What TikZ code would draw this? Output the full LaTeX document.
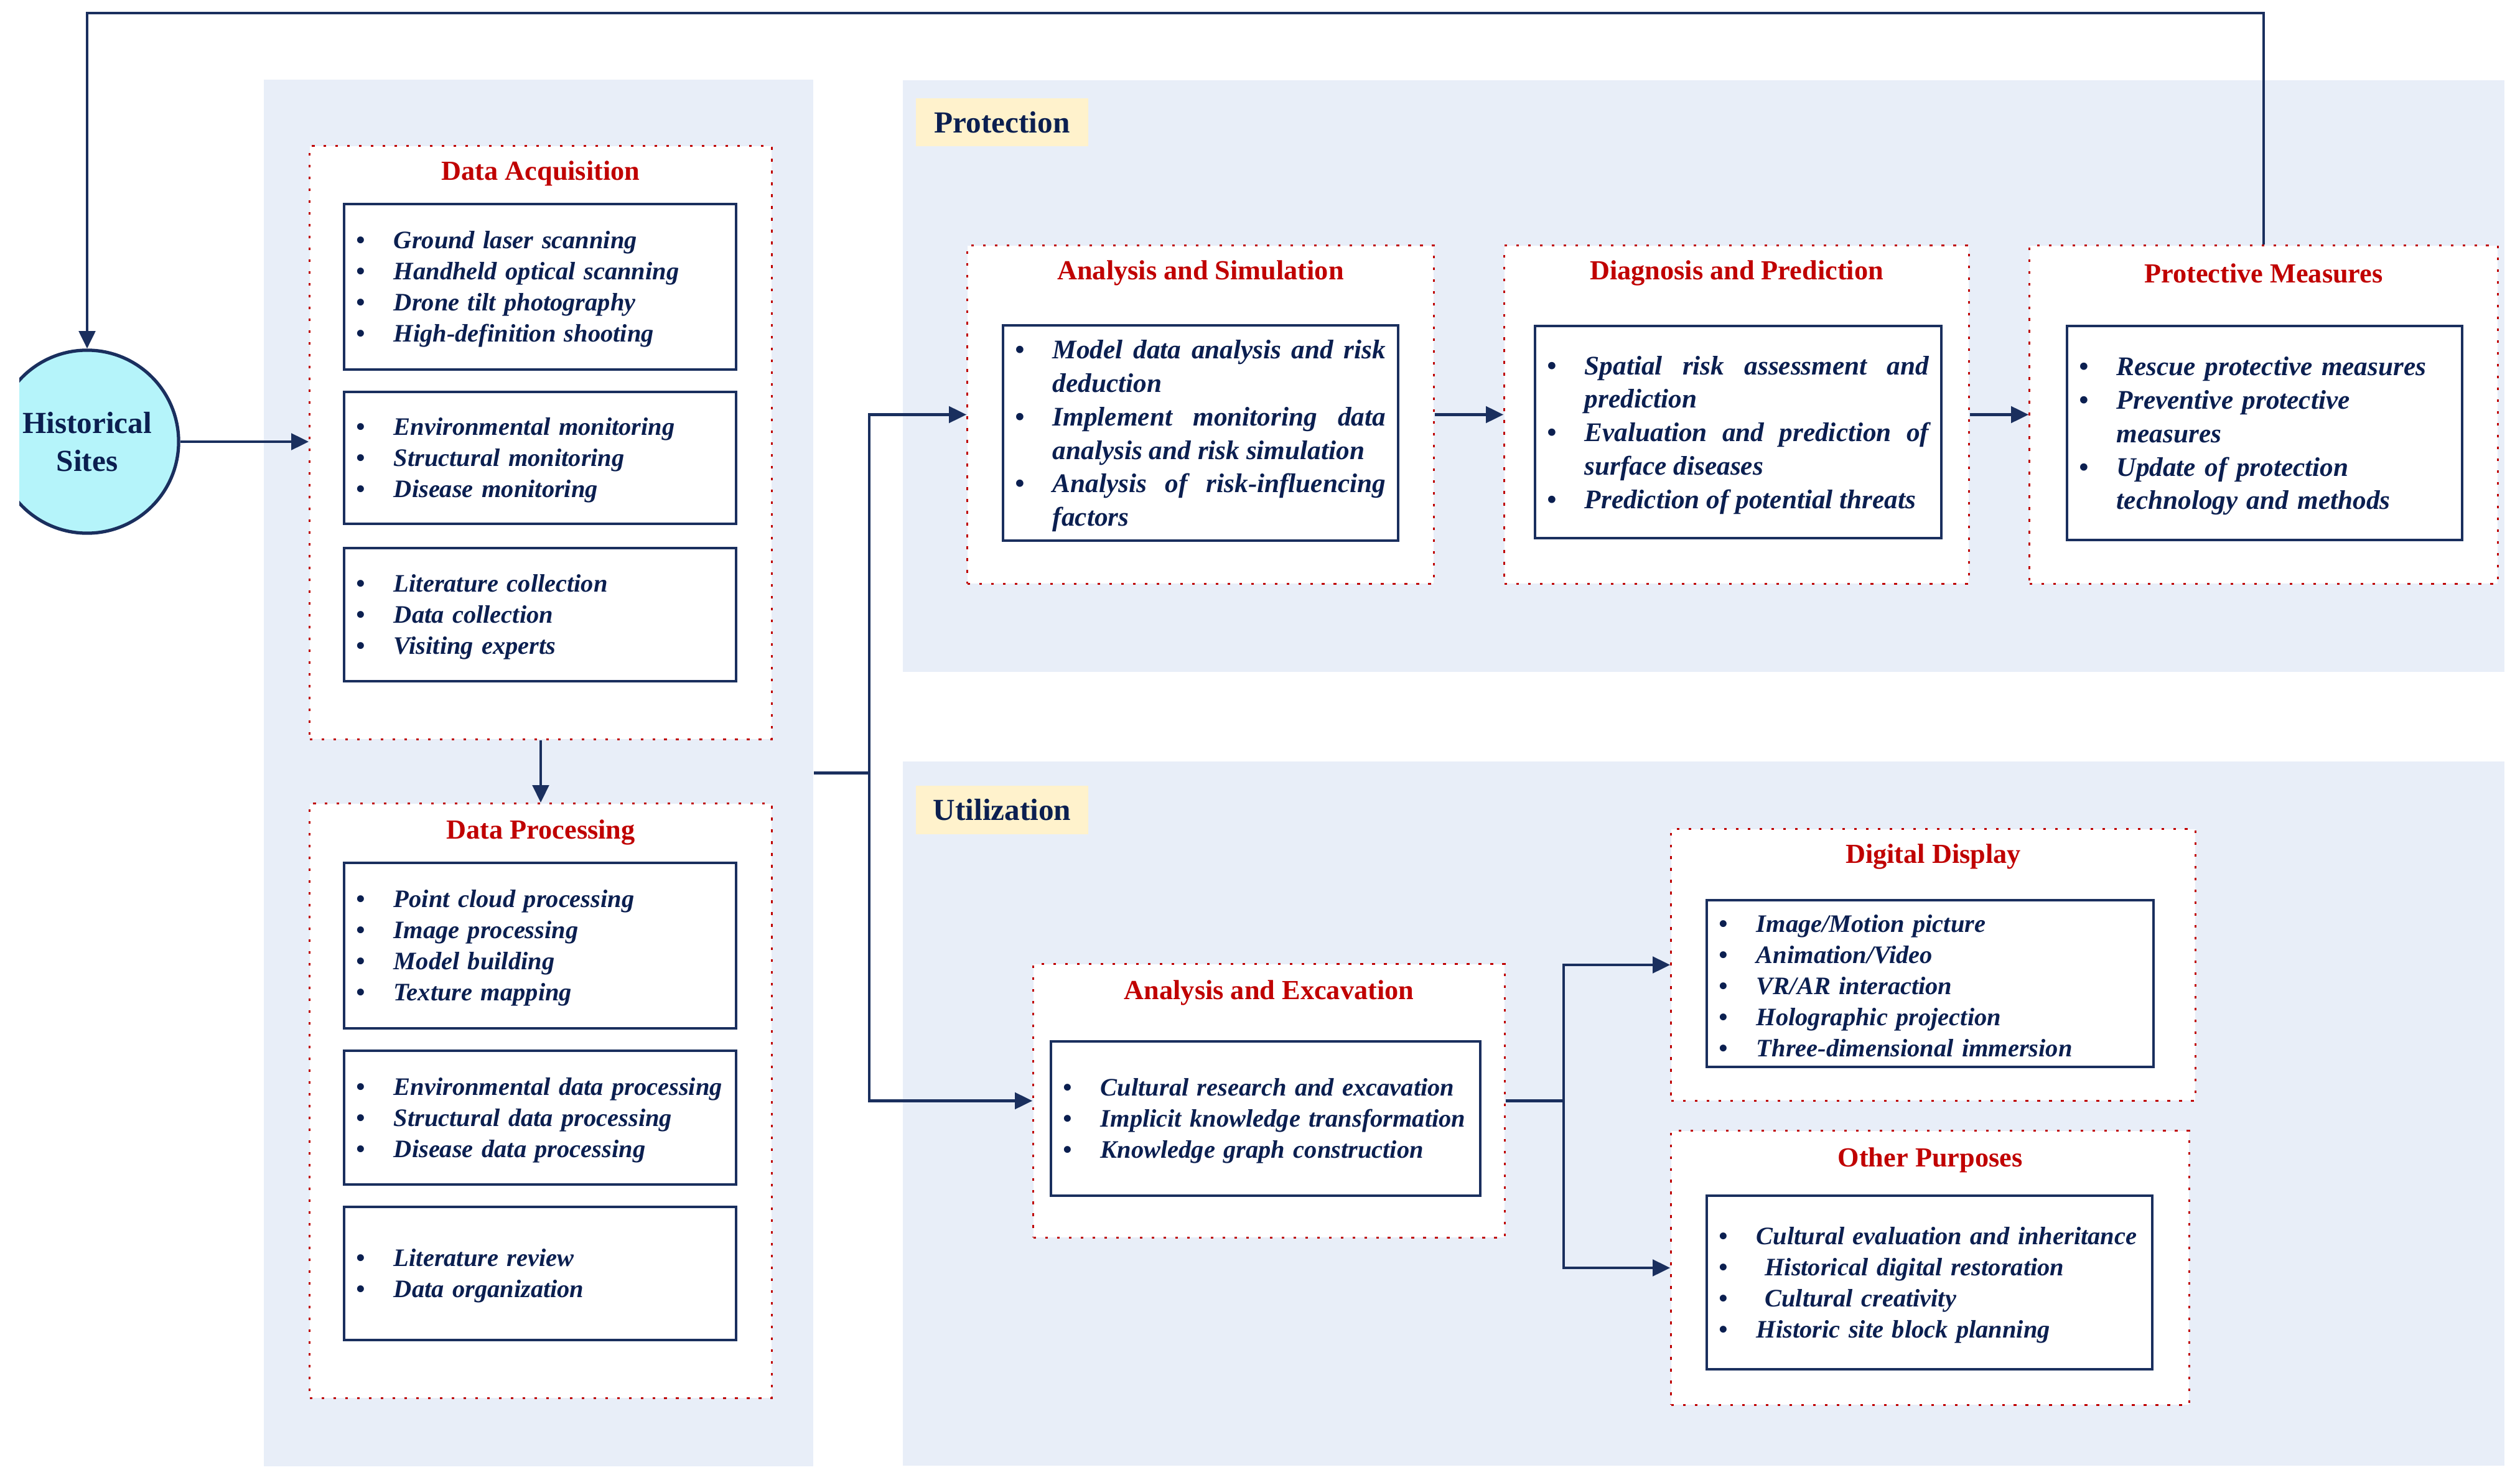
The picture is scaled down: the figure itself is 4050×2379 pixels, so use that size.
\documentclass[tikz,border=0pt]{standalone}
\usepackage{fontspec}
\setmainfont{Liberation Serif}
\usetikzlibrary{positioning,arrows.meta}
\definecolor{navy}{HTML}{0B1F50}
\definecolor{linenavy}{HTML}{1A2F5E}
\definecolor{titlered}{HTML}{C00000}
\definecolor{panelblue}{HTML}{E8EEF8}
\definecolor{capgold}{HTML}{FFF2CC}
\definecolor{sitecyan}{HTML}{B5F4FA}
\newcommand{\itemfont}{\fontsize{11.5}{14.2}\selectfont\bfseries\itshape}
\newcommand{\bigitemfont}{\fontsize{12.3}{15.3}\selectfont\bfseries\itshape}
\newcommand{\bul}{\par\noindent\hangindent=0.6cm\hangafter=1\makebox[0.6cm][l]{\textbullet}\ignorespaces}
\newcommand{\bulend}{\par\vspace{4pt}}

\begin{document}
\begin{tikzpicture}[x=0.01cm,y=-0.01cm,
  panel/.style={fill=panelblue,inner sep=0pt},
  seclabel/.style={fill=capgold,minimum width=2.77cm,minimum height=0.77cm,font=\fontsize{14}{17}\selectfont\bfseries,text=navy},
  outer/.style={draw=titlered,line width=0.9pt,dash pattern=on 1.2pt off 4.2pt,fill=white,inner sep=0pt},
  ttl/.style={font=\fontsize{12.6}{14}\selectfont\bfseries,text=titlered,yshift=-0.05cm},
  itembox/.style={draw=linenavy,line width=1.1pt,fill=white,inner xsep=0.2cm,inner ysep=0pt,text width=#1,align=left,font=\itemfont,text=navy},
  arr/.style={draw=linenavy,line width=1.2pt,-{Triangle[length=8pt,width=7.5pt]}},
  ln/.style={draw=linenavy,line width=1.2pt}]

\useasboundingbox (0,0) rectangle (4050,2379);

% panels
\node[panel,minimum width=8.83cm,minimum height=22.27cm] (lp) at (865.5,1242.5) {};
\node[panel,minimum width=25.72cm,minimum height=9.51cm] (pp) at (2738,604.5) {};
\node[panel,minimum width=25.72cm,minimum height=11.32cm] (up) at (2738,1790) {};
\node[seclabel] (protcap) at (1610.5,196.5) {Protection};
\node[seclabel] (utilcap) at (1610.5,1302) {Utilization};

% historical sites
\begin{scope}
  \clip (31,0) rectangle (4050,2379);
  \node[circle,draw=linenavy,line width=1.5pt,fill=sitecyan,minimum size=2.94cm,inner sep=0pt,align=center,font=\fontsize{14}{17.5}\selectfont\bfseries,text=navy] (hs) at (140,710) {Historical\\Sites};
\end{scope}

% data acquisition
\node[outer,minimum width=7.42cm,minimum height=9.53cm] (da) at (869,711.5) {};
\node[ttl] (datitle) at (869,274) {Data Acquisition};
\node[itembox=5.9cm,minimum height=2.66cm] (da1) at (868,461) {\bul Ground laser scanning \bul Handheld optical scanning \bul Drone tilt photography \bul High-definition shooting\bulend};
\node[itembox=5.9cm,minimum height=2.12cm] (da2) at (868,736) {\bul Environmental monitoring \bul Structural monitoring \bul Disease monitoring\bulend};
\node[itembox=5.9cm,minimum height=2.14cm] (da3) at (868,988) {\bul Literature collection \bul Data collection \bul Visiting experts\bulend};

% data processing
\node[outer,minimum width=7.42cm,minimum height=9.55cm] (dp) at (869,1769.5) {};
\node[ttl] (dptitle) at (869,1333) {Data Processing};
\node[itembox=5.9cm,minimum height=2.66cm] (dp1) at (868,1520) {\bul Point cloud processing \bul Image processing \bul Model building \bul Texture mapping\bulend};
\node[itembox=5.9cm,minimum height=2.15cm] (dp2) at (868,1796.5) {\bul Environmental data processing \bul Structural data processing \bul Disease data processing\bulend};
\node[itembox=5.9cm,minimum height=2.14cm] (dp3) at (868,2047) {\bul Literature review \bul Data organization\bulend};

% protection
\node[outer,minimum width=7.49cm,minimum height=5.43cm] (as) at (1929.5,666.5) {};
\node[ttl] (astitle) at (1929.5,434) {Analysis and Simulation};
\node[itembox=5.95cm,minimum height=3.44cm,align=justify,font=\bigitemfont] (as1) at (1929.5,696) {\bul Model data analysis and risk\linebreak deduction \bul Implement monitoring data\linebreak analysis and risk simulation \bul Analysis of risk-influencing\linebreak factors\bulend};

\node[outer,minimum width=7.46cm,minimum height=5.43cm] (dpr) at (2791,666.5) {};
\node[ttl] (dprtitle) at (2791,434) {Diagnosis and Prediction};
\node[itembox=6.13cm,minimum height=3.41cm,align=justify,font=\bigitemfont] (dpr1) at (2793.5,694.5) {\bul Spatial risk assessment and\linebreak prediction \bul Evaluation and prediction of\linebreak surface diseases \bul Prediction of potential threats\bulend};

\node[outer,minimum width=7.52cm,minimum height=5.43cm] (pm) at (3638,666.5) {};
\node[ttl] (pmtitle) at (3638,434) {Protective Measures};
\node[itembox=5.95cm,minimum height=3.44cm,font=\bigitemfont] (pm1) at (3639.5,696) {\bul Rescue protective measures \bul Preventive protective\newline measures \bul Update of protection\newline technology and methods\bulend};

% utilization
\node[outer,minimum width=7.57cm,minimum height=4.39cm] (ae) at (2039.5,1769.5) {};
\node[ttl] (aetitle) at (2039.5,1591) {Analysis and Excavation};
\node[itembox=6.5cm,minimum height=2.48cm] (ae1) at (2034,1798) {\bul Cultural research and excavation \bul Implicit knowledge transformation \bul Knowledge graph construction\bulend};

\node[outer,minimum width=8.42cm,minimum height=4.36cm] (dd) at (3107,1551) {};
\node[ttl] (ddtitle) at (3107,1372) {Digital Display};
\node[itembox=6.78cm,minimum height=2.68cm] (dd1) at (3102,1581) {\bul Image/Motion picture \bul Animation/Video \bul VR/AR interaction \bul Holographic projection \bul Three-dimensional immersion\bulend};

\node[outer,minimum width=8.32cm,minimum height=4.40cm] (op) at (3102,2038) {};
\node[ttl] (optitle) at (3102,1860) {Other Purposes};
\node[itembox=6.76cm,minimum height=2.79cm] (op1) at (3101,2061.5) {\bul Cultural evaluation and inheritance \bul\ Historical digital restoration \bul\ Cultural creativity \bul Historic site block planning\bulend};

% connectors
\draw[arr] (hs.east) -- (hs.east -| da.west);
\draw[arr] (da.south) -- (dp.north);
\coordinate (lsplit) at (1397,1242.5);
\draw[ln] (lp.east) -- (lsplit);
\draw[arr] (lsplit) |- (as.west);
\draw[arr] (lsplit) |- (ae.west);
\draw[arr] (as.east) -- (dpr.west);
\draw[arr] (dpr.east) -- (pm.west);
\coordinate (usplit) at (2513,1769.5);
\draw[ln] (ae.east) -- (usplit);
\draw[arr] (usplit) |- (dd.west);
\draw[arr] (usplit) |- (op.west);
\coordinate (loopturn) at (3638,21);
\draw[arr] (pm.north) -- (loopturn) -| (hs.north);
\end{tikzpicture}
\end{document}
